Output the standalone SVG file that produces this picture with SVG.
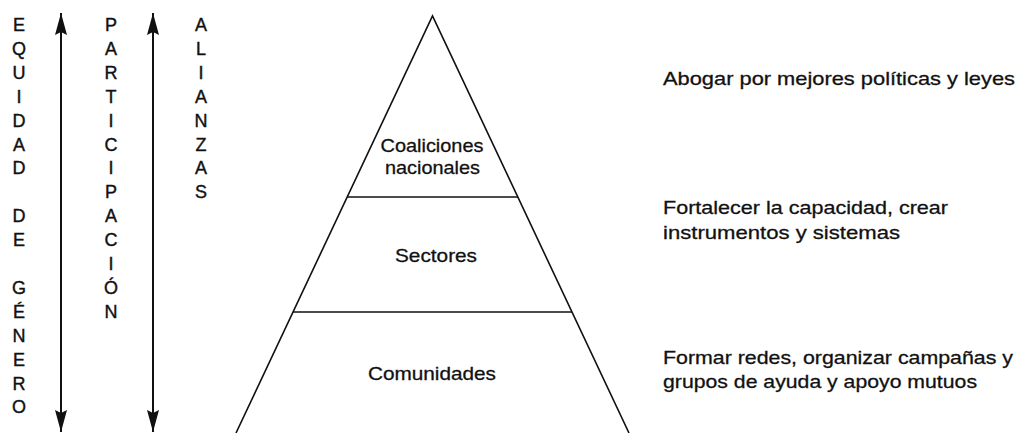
<svg xmlns="http://www.w3.org/2000/svg" width="1017" height="433" viewBox="0 0 1017 433">
<style>
  .col { font-family: "Liberation Sans", Arial, sans-serif; font-size: 18px; fill: #111; stroke: #111; stroke-width: 0.4; text-anchor: middle; }
  .lbl { font-family: "Liberation Sans", Arial, sans-serif; font-size: 19px; fill: #111; stroke: #111; stroke-width: 0.3; text-anchor: middle; }
  .txt { font-family: "Liberation Sans", Arial, sans-serif; font-size: 19px; fill: #111; stroke: #111; stroke-width: 0.3; }
  .pyr { fill: none; stroke: #111; stroke-width: 1.6; stroke-linejoin: miter; }
  .arr { stroke: #111; stroke-width: 2; fill: none; }
</style>
<defs>
  <marker id="ah" viewBox="0 0 22 12" refX="22" refY="6" markerWidth="22" markerHeight="12" markerUnits="userSpaceOnUse" orient="auto-start-reverse">
    <path d="M0,0 L22,6 L0,12 L3,6 Z" fill="#111"/>
  </marker>
</defs>
<rect width="1017" height="433" fill="#fff"/>

<g id="connectors">
  <path class="arr" d="M61,13 L61,432" marker-start="url(#ah)" marker-end="url(#ah)"/>
  <path class="arr" d="M153,13 L153,432" marker-start="url(#ah)" marker-end="url(#ah)"/>
</g>

<g id="col-equidad" class="col">
  <text x="19" y="31">E</text>
  <text x="19" y="54.9">Q</text>
  <text x="19" y="78.8">U</text>
  <text x="19" y="102.7">I</text>
  <text x="19" y="126.6">D</text>
  <text x="19" y="150.5">A</text>
  <text x="19" y="174.4">D</text>
  <text x="19" y="222.2">D</text>
  <text x="19" y="246.1">E</text>
  <text x="19" y="293.9">G</text>
  <text x="19" y="317.8">É</text>
  <text x="19" y="341.7">N</text>
  <text x="19" y="365.6">E</text>
  <text x="19" y="389.5">R</text>
  <text x="19" y="413.4">O</text>
</g>

<g id="col-participacion" class="col">
  <text x="111" y="31">P</text>
  <text x="111" y="54.9">A</text>
  <text x="111" y="78.8">R</text>
  <text x="111" y="102.7">T</text>
  <text x="111" y="126.6">I</text>
  <text x="111" y="150.5">C</text>
  <text x="111" y="174.4">I</text>
  <text x="111" y="198.3">P</text>
  <text x="111" y="222.2">A</text>
  <text x="111" y="246.1">C</text>
  <text x="111" y="270">I</text>
  <text x="111" y="293.9">Ó</text>
  <text x="111" y="317.8">N</text>
</g>

<g id="col-alianzas" class="col">
  <text x="201" y="31">A</text>
  <text x="201" y="54.9">L</text>
  <text x="201" y="78.8">I</text>
  <text x="201" y="102.7">A</text>
  <text x="201" y="126.6">N</text>
  <text x="201" y="150.5">Z</text>
  <text x="201" y="174.4">A</text>
  <text x="201" y="198.3">S</text>
</g>

<g id="pyramid">
  <path class="pyr" d="M236,433 L432.5,16 L629,433"/>
  <line class="pyr" x1="347" y1="197" x2="518" y2="197"/>
  <line class="pyr" x1="293" y1="312" x2="572" y2="312"/>
</g>

<g id="tier-coaliciones" class="lbl">
  <text x="432" y="152" textLength="103" lengthAdjust="spacingAndGlyphs">Coaliciones</text>
  <text x="432.5" y="174" textLength="95" lengthAdjust="spacingAndGlyphs">nacionales</text>
</g>
<g id="tier-sectores" class="lbl">
  <text x="436" y="262" textLength="82" lengthAdjust="spacingAndGlyphs">Sectores</text>
</g>
<g id="tier-comunidades" class="lbl">
  <text x="432" y="380" textLength="128" lengthAdjust="spacingAndGlyphs">Comunidades</text>
</g>

<g id="desc-abogar" class="txt">
  <text x="663" y="85" textLength="352" lengthAdjust="spacingAndGlyphs">Abogar por mejores políticas y leyes</text>
</g>
<g id="desc-fortalecer" class="txt">
  <text x="663" y="214" textLength="285" lengthAdjust="spacingAndGlyphs">Fortalecer la capacidad, crear</text>
  <text x="663" y="238.5" textLength="237" lengthAdjust="spacingAndGlyphs">instrumentos y sistemas</text>
</g>
<g id="desc-formar" class="txt">
  <text x="663" y="364" textLength="350" lengthAdjust="spacingAndGlyphs">Formar redes, organizar campañas y</text>
  <text x="663" y="388" textLength="314" lengthAdjust="spacingAndGlyphs">grupos de ayuda y apoyo mutuos</text>
</g>
</svg>
